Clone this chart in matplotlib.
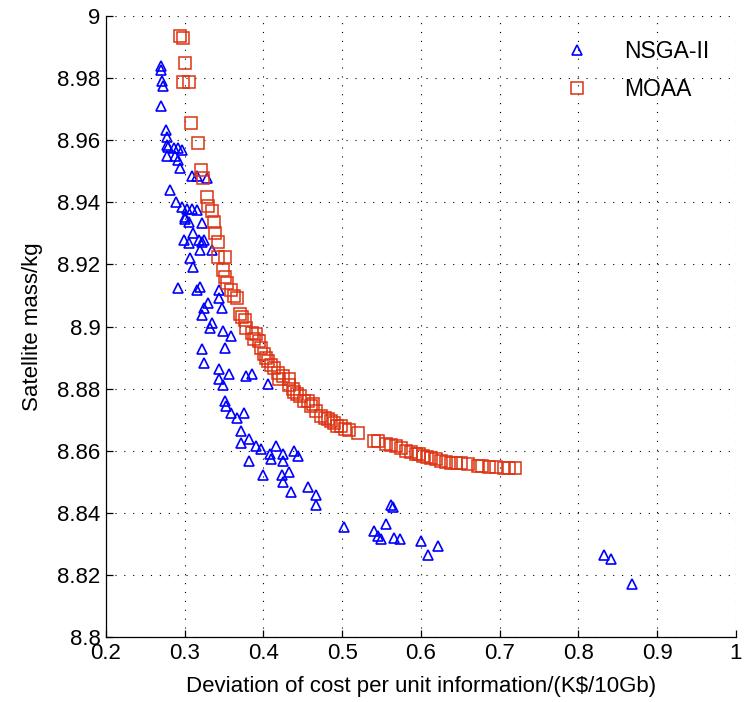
import numpy as np
import matplotlib
matplotlib.use("Agg")
import matplotlib.pyplot as plt
from matplotlib.ticker import FuncFormatter

plt.rcParams['font.family'] = ['Liberation Sans', 'DejaVu Sans']

# Frente de Pareto NSGA-II (desviacion de coste, masa del satelite)
nsga_x = [0.270, 0.270, 0.271, 0.272, 0.270, 0.276, 0.277, 0.278, 0.279, 0.286,
          0.292, 0.296, 0.277, 0.287, 0.292, 0.294, 0.309, 0.315, 0.328, 0.281,
          0.289, 0.296, 0.3025, 0.309, 0.315, 0.300, 0.300, 0.305, 0.322, 0.311,
          0.299, 0.305, 0.318, 0.322, 0.325, 0.319, 0.334, 0.307, 0.311, 0.292,
          0.315, 0.319, 0.343, 0.343, 0.330, 0.325, 0.347, 0.322, 0.334, 0.332,
          0.349, 0.359, 0.322, 0.351, 0.325, 0.344, 0.356, 0.378, 0.385, 0.343,
          0.349, 0.406, 0.351, 0.353, 0.359, 0.366, 0.375, 0.372, 0.381, 0.372,
          0.391, 0.397, 0.416, 0.408, 0.410, 0.425, 0.425, 0.439, 0.444, 0.382,
          0.400, 0.423, 0.425, 0.433, 0.435, 0.457, 0.467, 0.467,
          0.502, 0.540, 0.545, 0.549, 0.556, 0.562, 0.565, 0.566, 0.573, 0.600,
          0.609, 0.622, 0.832, 0.841, 0.868]
nsga_y = [8.9839, 8.9826, 8.9790, 8.9774, 8.9710, 8.9634, 8.9611, 8.9585, 8.9580, 8.9574,
          8.9574, 8.9570, 8.9550, 8.9550, 8.9535, 8.9510, 8.9486, 8.9486, 8.9480, 8.9440,
          8.9400, 8.9384, 8.9380, 8.9380, 8.9377, 8.9354, 8.9345, 8.9338, 8.9335, 8.9302,
          8.9280, 8.9270, 8.9280, 8.9273, 8.9280, 8.9247, 8.9247, 8.9221, 8.9192, 8.9124,
          8.9117, 8.9128, 8.9117, 8.9091, 8.9075, 8.9059, 8.9059, 8.9036, 8.9010, 8.8994,
          8.8987, 8.8971, 8.8928, 8.8932, 8.8883, 8.8864, 8.8847, 8.8841, 8.8847, 8.8830,
          8.8813, 8.8816, 8.8759, 8.8743, 8.8721, 8.8705, 8.8721, 8.8663, 8.8638, 8.8625,
          8.8616, 8.8606, 8.8616, 8.8590, 8.8575, 8.8590, 8.8568, 8.8600, 8.8584, 8.8568,
          8.8521, 8.8521, 8.8498, 8.8530, 8.8467, 8.8483, 8.8457, 8.8425,
          8.8355, 8.8340, 8.8325, 8.8316, 8.8365, 8.8426, 8.8420, 8.8320, 8.8316, 8.8310,
          8.8265, 8.8294, 8.8265, 8.8250, 8.8170]

# Frente de Pareto MOAA
moaa_x = [0.294, 0.298, 0.300, 0.298, 0.306, 0.3076, 0.3165, 0.3206, 0.3236, 0.328,
          0.330, 0.334, 0.337, 0.338, 0.342, 0.342, 0.351, 0.348, 0.351, 0.354,
          0.359, 0.363, 0.366, 0.370, 0.373, 0.376, 0.378, 0.385, 0.388, 0.391,
          0.394, 0.397, 0.401, 0.403, 0.406, 0.409, 0.414, 0.419, 0.420, 0.425,
          0.432, 0.433, 0.437, 0.439, 0.443, 0.446, 0.452, 0.456, 0.460, 0.463,
          0.467, 0.473, 0.478, 0.482, 0.486, 0.490, 0.494, 0.499, 0.504, 0.509,
          0.520, 0.541, 0.545, 0.556, 0.562, 0.568, 0.575, 0.581, 0.587, 0.594,
          0.598, 0.603, 0.608, 0.613, 0.619, 0.625, 0.632, 0.638, 0.644, 0.651,
          0.660, 0.672, 0.678, 0.686, 0.695, 0.705, 0.712, 0.720]
moaa_y = [8.9937, 8.9930, 8.9850, 8.9787, 8.9787, 8.9657, 8.9590, 8.9504, 8.9478, 8.9416,
          8.9387, 8.9371, 8.9338, 8.9302, 8.9273, 8.9224, 8.9224, 8.9182, 8.9159, 8.9140,
          8.9117, 8.9100, 8.9091, 8.9042, 8.9030, 8.9020, 8.8997, 8.8980, 8.8960, 8.8977,
          8.8954, 8.8932, 8.8912, 8.8900, 8.8889, 8.8875, 8.8867, 8.8850, 8.8832, 8.8840,
          8.8831, 8.8813, 8.8800, 8.8790, 8.8782, 8.8775, 8.8759, 8.8760, 8.8745, 8.8749,
          8.8727, 8.8711, 8.8705, 8.8702, 8.8695, 8.8689, 8.8680, 8.8679, 8.8670, 8.8667,
          8.8657, 8.8632, 8.8630, 8.8622, 8.8620, 8.8616, 8.8610, 8.8600, 8.8596, 8.8590,
          8.8588, 8.8584, 8.8580, 8.8578, 8.8574, 8.8568, 8.8565, 8.8562, 8.8560, 8.8559,
          8.8556, 8.8552, 8.8550, 8.8549, 8.8548, 8.8546, 8.8545, 8.8543]

x_ticks = [0.2, 0.3, 0.4, 0.5, 0.6, 0.7, 0.8, 0.9, 1.0]
y_ticks = [8.8, 8.82, 8.84, 8.86, 8.88, 8.9, 8.92, 8.94, 8.96, 8.98, 9.0]

fig = plt.figure(figsize=(7.44, 7.02), dpi=100)
ax = fig.add_axes([0.1425, 0.0926, 0.8465, 0.8844])

ax.plot(nsga_x, nsga_y, linestyle='none', marker='^', markersize=7.5,
        markerfacecolor='none', markeredgecolor='#0000FF', markeredgewidth=1.2,
        label='NSGA-II')
ax.plot(moaa_x, moaa_y, linestyle='none', marker='s', markersize=8.6,
        markerfacecolor='none', markeredgecolor='#DD3311', markeredgewidth=1.1,
        label='MOAA')

ax.set_xlim(0.2, 1.0)
ax.set_ylim(8.8, 9.0)
ax.set_xticks(x_ticks)
ax.set_yticks(y_ticks)
ax.xaxis.set_major_formatter(FuncFormatter(lambda v, p: '%g' % v))
ax.yaxis.set_major_formatter(FuncFormatter(lambda v, p: '%g' % round(v, 2)))

# rejilla punteada estilo MATLAB
ax.grid(True, color='black', linestyle=(0, (1, 7)), linewidth=0.8)
ax.set_axisbelow(True)

for lado in ['top', 'right']:
    ax.spines[lado].set_visible(False)
for lado in ['left', 'bottom']:
    ax.spines[lado].set_linewidth(0.9)

ax.tick_params(direction='in', length=5, width=0.9, labelsize=16, pad=4)

ax.set_xlabel('Deviation of cost per unit information/(K\\$/10Gb)', fontsize=16, labelpad=9)
ax.set_ylabel('Satellite mass/kg', fontsize=16, labelpad=10)

ax.legend(loc='upper right', bbox_to_anchor=(0.99, 0.995), frameon=False,
          fontsize=16.5, handletextpad=1.3, labelspacing=0.65, handlelength=1.5)

fig.savefig('out.png', dpi=100)
